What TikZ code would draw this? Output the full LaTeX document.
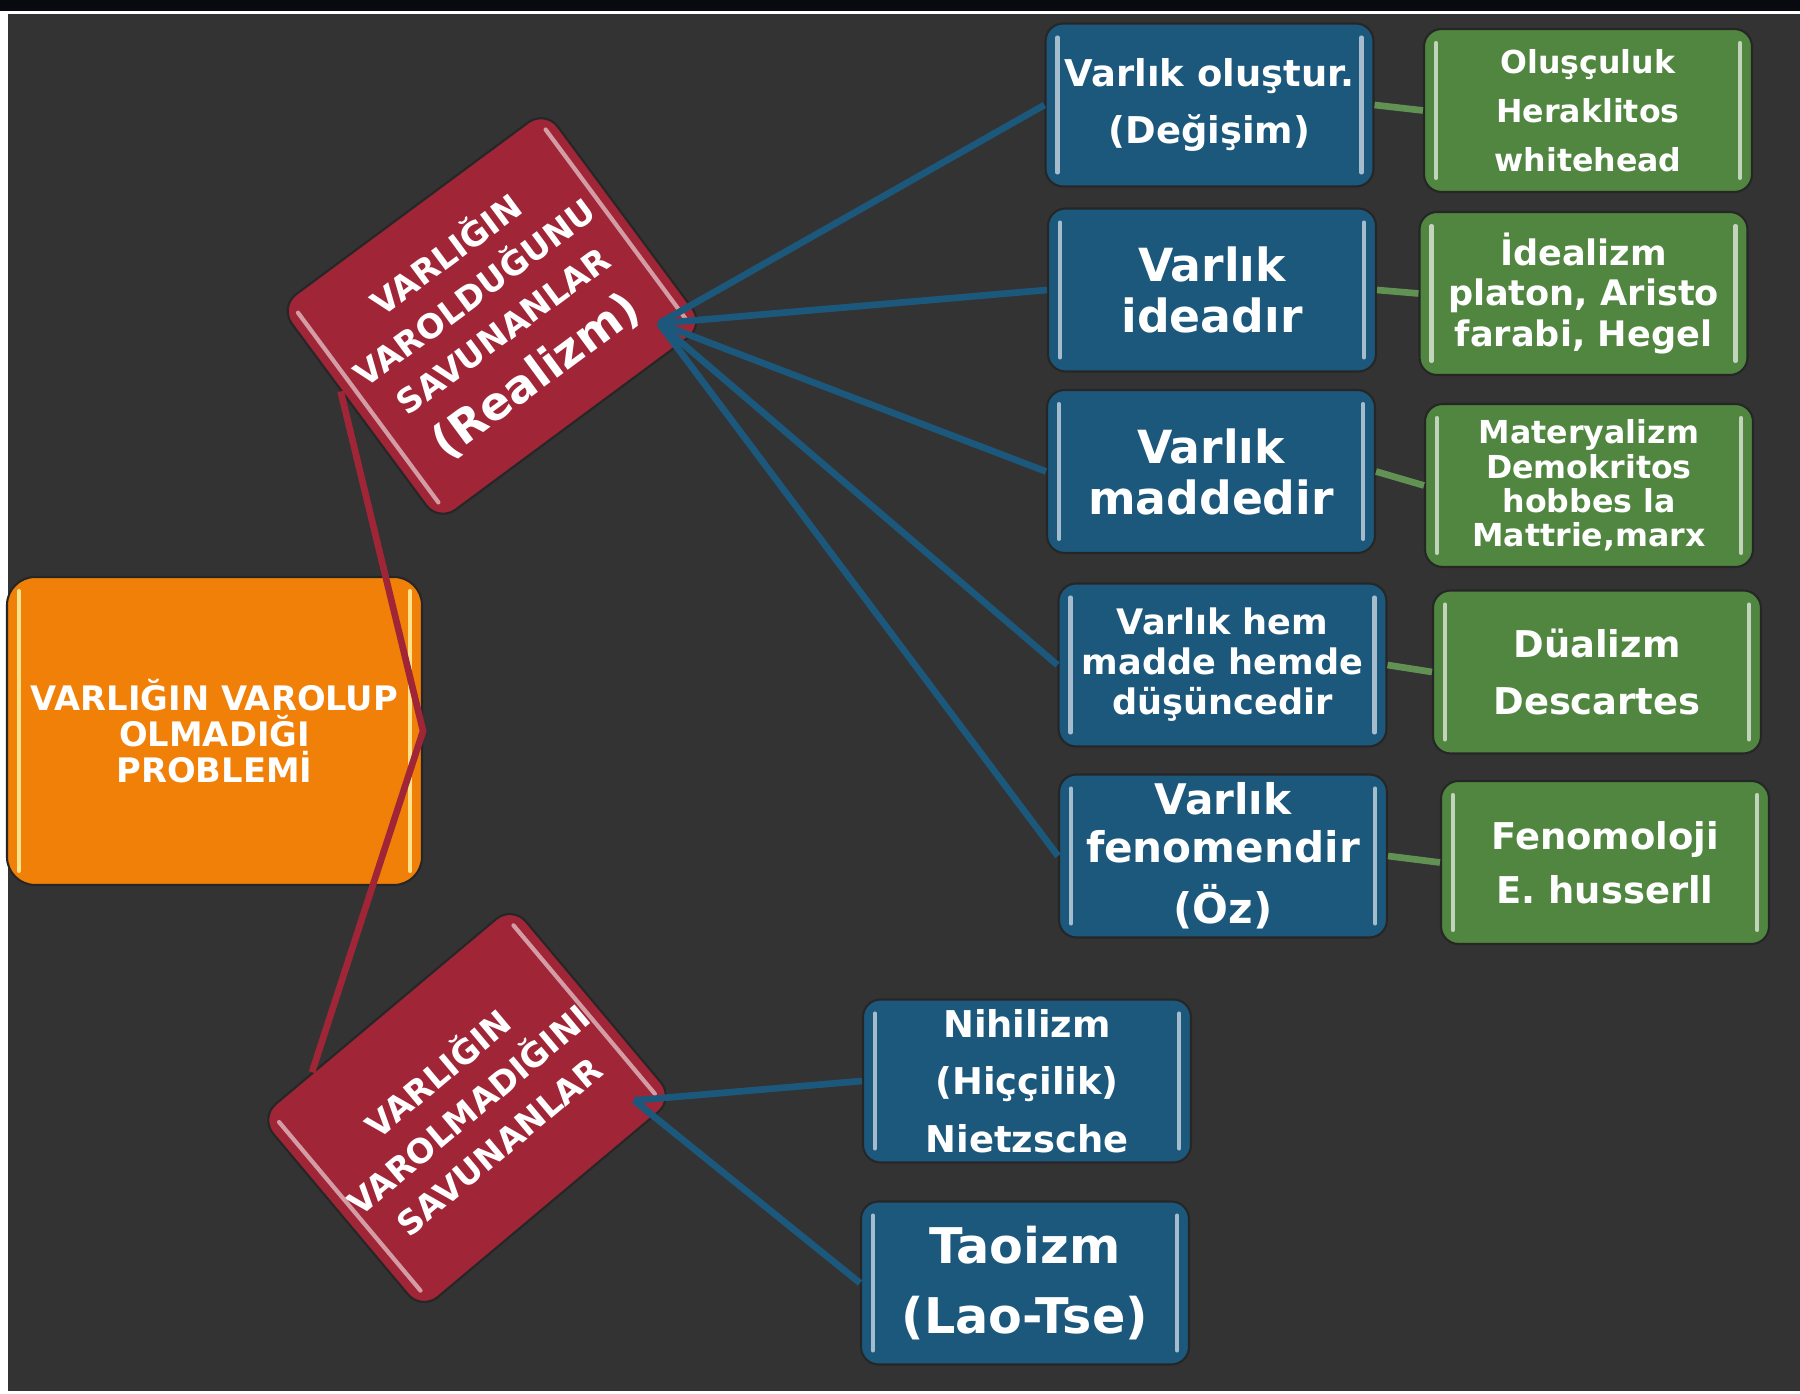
\documentclass[tikz,border=0pt]{standalone}
\usepackage{fontspec}
\setmainfont{DejaVu Sans}
\usetikzlibrary{calc, positioning}
\definecolor{bggray}{RGB}{51,51,51}
\definecolor{topband}{RGB}{8,10,16}
\definecolor{vorange}{RGB}{240,128,8}
\definecolor{vred}{RGB}{160,38,55}
\definecolor{vblue}{RGB}{27,88,124}
\definecolor{vgreen}{RGB}{80,134,64}
\definecolor{orangeshine}{RGB}{255,226,140}
\newcommand{\fsz}[2]{\fontsize{#1}{#2}\selectfont\bfseries}

\begin{document}
\begin{tikzpicture}[
  box/.style={
    draw=black!85,
    line width=0.6pt,
    rounded corners=5pt,
    minimum width=3.28cm,
    minimum height=1.63cm,
    inner sep=1pt,
    align=center,
    text=white
    },
  shine/.style={
    path picture={
      \draw[#1, line width=1.2pt, line cap=round]
        ([shift={(3.4pt,-4pt)}]path picture bounding box.north west) --
        ([shift={(3.4pt,4pt)}]path picture bounding box.south west)
        ([shift={(-3.4pt,-4pt)}]path picture bounding box.north east) --
        ([shift={(-3.4pt,4pt)}]path picture bounding box.south east);
      }
    },
  bluebox/.style={box, fill=vblue, shine=vblue!40!white},
  greenbox/.style={box, fill=vgreen, shine=vgreen!35!white},
  redbox/.style={box, fill=vred, minimum width=3.31cm, rounded corners=6pt, font=\fsz{9.5}{13.5}},
  link/.style={line width=1.9pt}
]

\useasboundingbox (0,0) rectangle (18,13.94);
\fill[white] (0,0) rectangle (18,13.94);
\fill[topband] (0,13.83) rectangle (18,13.94);
\fill[bggray] (0.08,0.03) rectangle (18,13.80);

% problem and the two answers
\node[box, fill=vorange, shine=orangeshine, minimum width=4.15cm, minimum height=3.08cm,
  rounded corners=8pt, font=\fsz{9.6}{10.2}] (problem) at (2.145,6.63)
  {VARLIĞIN VAROLUP\\OLMADIĞI\\PROBLEMİ};
\node[redbox, rotate=36.5, minimum height=2.68cm] (realizm) at (4.92,10.78)
  {VARLIĞIN\\VAROLDUĞUNU\\SAVUNANLAR\\[3pt]{\fsz{13}{15}(Realizm)}};
\node[redbox, rotate=40, minimum width=3.3cm, minimum height=2.52cm] (nonreal) at (4.67,2.86)
  {VARLIĞIN\\VAROLMADIĞINI\\SAVUNANLAR};

\foreach \n/\a/\w/\h in {realizm/36.5/1.54/1.18, nonreal/40/1.53/1.1}{
  \begin{scope}[shift={(\n.center)}, rotate=\a]
    \draw[vred!45!white, line width=1.2pt, line cap=round]
      (-\w,-\h) -- (-\w,\h) (\w,-\h) -- (\w,\h);
  \end{scope}
}

% blue boxes
\node[bluebox, font=\fsz{10.5}{16}] (olus) at (12.095,12.89) {Varlık oluştur.\\(Değişim)};
\node[bluebox, font=\fsz{13}{14.5}] (idea) at (12.12,11.04) {Varlık\\ideadır};
\node[bluebox, font=\fsz{13}{14.5}] (madde) at (12.11,9.225) {Varlık\\maddedir};
\node[bluebox, font=\fsz{10}{11.4}] (ikili) at (12.225,7.29) {Varlık hem\\madde hemde\\düşüncedir};
\node[bluebox, font=\fsz{12}{13.5}] (fenomen) at (12.23,5.38) {Varlık\\fenomendir\\[4pt](Öz)};
\node[bluebox, font=\fsz{10.5}{16.3}] (nihilizm) at (10.27,3.13) {Nihilizm\\(Hiççilik)\\Nietzsche};
\node[bluebox, font=\fsz{14}{20}] (taoizm) at (10.25,1.11) {Taoizm\\(Lao-Tse)};

% green boxes
\node[greenbox, font=\fsz{9}{14}] (heraklit) at (15.88,12.835) {Oluşçuluk\\Heraklitos\\whitehead};
\node[greenbox, font=\fsz{10}{11.5}] (platon) at (15.835,11.005) {İdealizm\\platon, Aristo\\farabi, Hegel};
\node[greenbox, font=\fsz{9}{9.8}] (demokrit) at (15.89,9.085) {Materyalizm\\Demokritos\\hobbes la\\Mattrie,marx};
\node[greenbox, font=\fsz{10.5}{16}] (descartes) at (15.97,7.22) {Düalizm\\Descartes};
\node[greenbox, font=\fsz{10.5}{15.5}] (husserl) at (16.05,5.315) {Fenomoloji\\E. husserll};

% connectors
\draw[link, vred] (realizm.170) -- (problem.east) -- (nonreal.127);
\coordinate (hubA) at ($(realizm.center)!0.78!(realizm.south east)$);
\coordinate (hubB) at ($(nonreal.center)!0.8!(nonreal.south east)$);
\foreach \n in {olus, idea, madde, ikili, fenomen}
  \draw[link, vblue] (hubA) -- (\n.west);
\foreach \n in {nihilizm, taoizm}
  \draw[link, vblue] (hubB) -- (\n.west);
\foreach \a/\b in {olus/heraklit, idea/platon, madde/demokrit, ikili/descartes, fenomen/husserl}
  \draw[link, vgreen!90!white] (\a.east) -- (\b.west);

\end{tikzpicture}
\end{document}
